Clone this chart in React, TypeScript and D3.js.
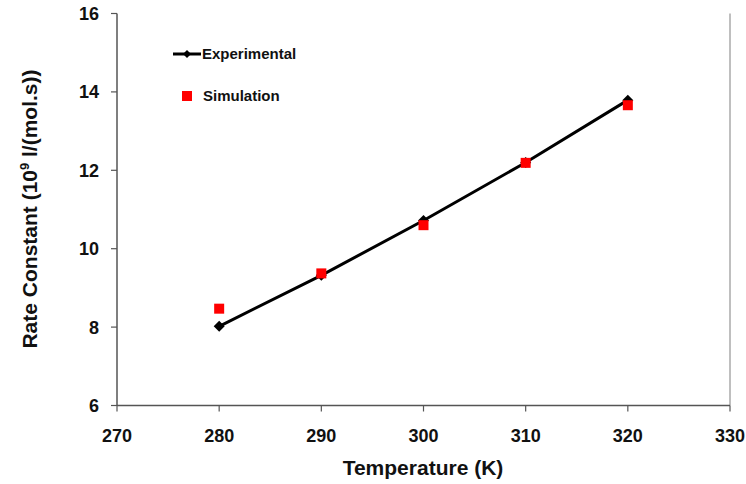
import React from "react";
import * as d3 from "d3";

// data
const temps = [280, 290, 300, 310, 320];
const experimental = [8.02, 9.32, 10.72, 12.2, 13.79];
const simulation = [8.47, 9.37, 10.6, 12.19, 13.66];
const xTicks = [270, 280, 290, 300, 310, 320, 330];
const yTicks = [6, 8, 10, 12, 14, 16];

const W = 746;
const H = 484;
const font = "'Liberation Sans', Arial, sans-serif";

export default function App() {
  const x = d3.scaleLinear().domain([270, 330]).range([117, 730]);
  const y = d3.scaleLinear().domain([6, 16]).range([405.5, 13.5]);

  const line = d3
    .line<number>()
    .x((d, i) => x(temps[i]))
    .y((d) => y(d));

  const diamond = (cx: number, cy: number, r: number) =>
    `M${cx},${cy - r}L${cx + r},${cy}L${cx},${cy + r}L${cx - r},${cy}Z`;

  const axisColor = "#555";

  return (
    <svg
      width={W}
      height={H}
      style={{ position: "absolute", left: 0, top: 0, background: "#fff" }}
      fontFamily={font}
    >
      {/* right border of plot area */}
      <line x1={x(330)} x2={x(330)} y1={y(16)} y2={y(6)} stroke="#aaa" strokeWidth={1.5} />

      {/* y axis */}
      <line x1={x(270)} x2={x(270)} y1={y(16)} y2={y(6)} stroke={axisColor} strokeWidth={1.5} />
      {yTicks.map((t) => (
        <g key={"y" + t}>
          <line x1={x(270) - 6} x2={x(270)} y1={y(t)} y2={y(t)} stroke={axisColor} strokeWidth={1.2} />
          <text
            x={99}
            y={y(t)}
            dy="0.36em"
            textAnchor="end"
            fontSize={18}
            fontWeight="bold"
            fill="#111"
          >
            {t}
          </text>
        </g>
      ))}

      {/* x axis */}
      <line x1={x(270)} x2={x(330)} y1={y(6)} y2={y(6)} stroke={axisColor} strokeWidth={1.5} />
      {xTicks.map((t) => (
        <g key={"x" + t}>
          <line x1={x(t)} x2={x(t)} y1={y(6)} y2={y(6) + 6} stroke={axisColor} strokeWidth={1.2} />
          <text
            x={x(t)}
            y={442}
            textAnchor="middle"
            fontSize={18}
            fontWeight="bold"
            fill="#111"
          >
            {t}
          </text>
        </g>
      ))}

      {/* axis titles */}
      <text x={423} y={475} textAnchor="middle" fontSize={21} fontWeight="bold" fill="#111">
        Temperature (K)
      </text>
      <text
        transform={`translate(37,209) rotate(-90)`}
        textAnchor="middle"
        fontSize={21}
        fontWeight="bold"
        fill="#111"
      >
        Rate Constant (10
        <tspan fontSize={13} dy={-8}>9</tspan>
        <tspan dy={8}> l/(mol.s))</tspan>
      </text>

      {/* experimental line + markers */}
      <path d={line(experimental) || ""} fill="none" stroke="#000" strokeWidth={3} />
      {experimental.map((v, i) => (
        <path key={"e" + i} d={diamond(x(temps[i]), y(v), 5.5)} fill="#000" />
      ))}

      {/* simulation markers */}
      {simulation.map((v, i) => (
        <rect
          key={"s" + i}
          x={x(temps[i]) - 5}
          y={y(v) - 5}
          width={10}
          height={10}
          fill="#ff0000"
        />
      ))}

      {/* legend */}
      <line x1={173} x2={201} y1={54} y2={54} stroke="#000" strokeWidth={3} />
      <path d={diamond(187, 54, 4)} fill="#000" />
      <text x={202} y={54} dy="0.36em" fontSize={15} fontWeight="bold" fill="#111">
        Experimental
      </text>
      <rect x={182} y={91} width={10} height={10} fill="#ff0000" />
      <text x={203} y={96} dy="0.36em" fontSize={15} fontWeight="bold" fill="#111">
        Simulation
      </text>
    </svg>
  );
}
